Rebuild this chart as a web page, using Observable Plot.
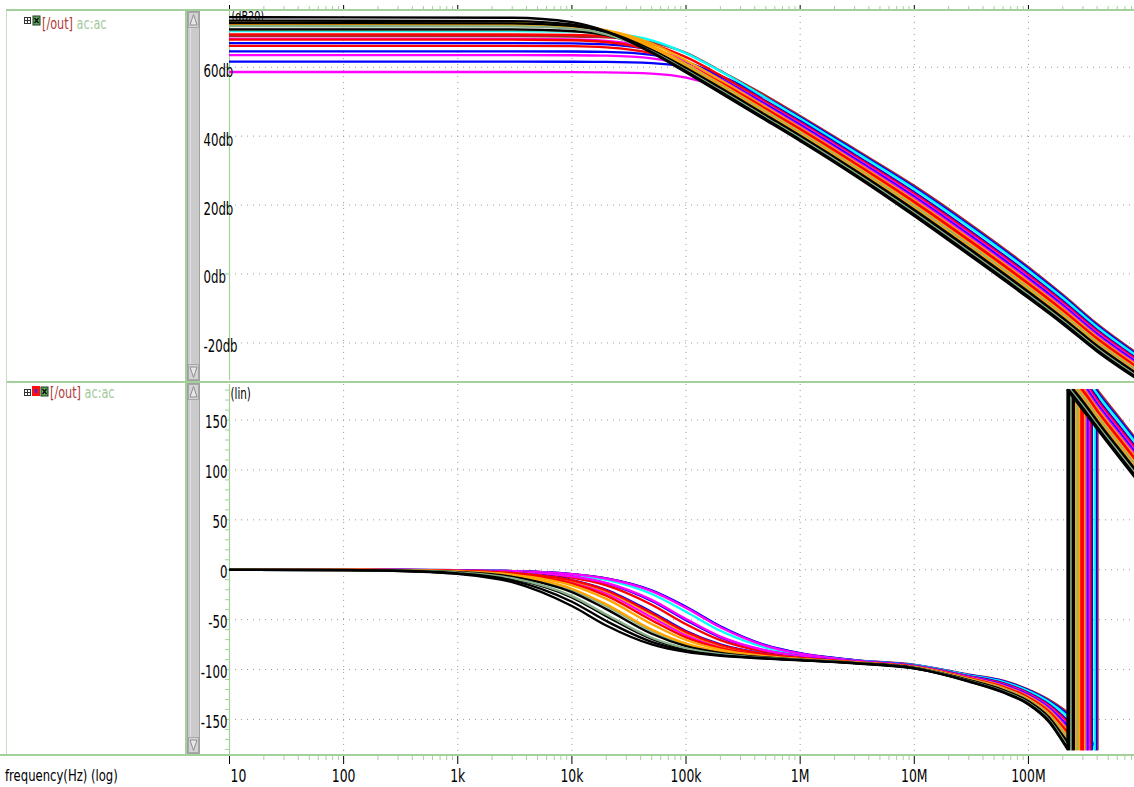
<!DOCTYPE html>
<html>
<head>
<meta charset="utf-8">
<script src="https://cdn.jsdelivr.net/npm/d3@7"></script>
<script src="https://cdn.jsdelivr.net/npm/@observablehq/plot@0.6"></script>
<style>
html,body{margin:0;padding:0;background:#fff;}
#wrap{position:relative;width:1134px;height:787px;overflow:hidden;background:#fff;font-family:"DejaVu Sans",sans-serif;}
.lbl{position:absolute;white-space:nowrap;transform-origin:0 0;line-height:1;}
</style>
</head>
<body>
<div id="wrap"></div>
<script>
// ---------------- data ----------------
const runColors = ["#000000","#000000","#88b088","#000000","#000000","#ffa500","#88b088","#ffa500","#ff0000","#ff0000",
                   "#ffa500","#ff00ff","#0000ff","#ff00ff","#ff0000","#0000ff","#ff00ff","#00ffff","#0000ff","#a52a2a"];

const magFreqs = [10, 3e3, 1e4, 2e4, 5e4, 1e5, 2e5, 5e5, 1e6, 3e6, 1e7, 3e7, 1e8, 2e8, 4e8, 8.5e8];
const magRuns = [
  [74.5, 74.35, 73.07, 70.41, 64.18, 58.47, 52.53, 44.60, 38.58, 28.56, 16.80, 5.56, -7.00, -14.50, -22.50, -30.00],
  [73.5, 73.39, 72.42, 70.21, 64.43, 58.83, 52.92, 44.99, 38.98, 28.96, 17.26, 6.04, -6.53, -14.06, -22.08, -29.61],
  [71.9, 71.83, 71.18, 69.55, 64.51, 59.12, 53.28, 45.37, 39.37, 29.37, 17.72, 6.53, -6.06, -13.61, -21.66, -29.21],
  [72.8, 72.72, 72.00, 70.24, 65.00, 59.56, 53.69, 45.78, 39.75, 29.78, 18.19, 7.01, -5.58, -13.16, -21.24, -28.82],
  [71.0, 70.95, 70.50, 69.27, 64.92, 59.78, 54.02, 46.13, 40.14, 30.18, 18.66, 7.50, -5.10, -12.71, -20.81, -28.42],
  [73.0, 72.93, 72.29, 70.68, 65.66, 60.28, 54.44, 46.53, 40.52, 30.59, 19.11, 7.98, -4.63, -12.26, -20.40, -28.03],
  [70.8, 70.76, 70.40, 69.37, 65.43, 60.48, 54.77, 46.91, 40.91, 30.99, 19.58, 8.47, -4.16, -11.81, -19.97, -27.63],
  [72.4, 72.35, 71.87, 70.59, 66.13, 60.96, 55.18, 47.29, 41.29, 31.39, 20.04, 8.95, -3.69, -11.37, -19.56, -27.24],
  [68.0, 67.98, 67.82, 67.31, 64.84, 60.77, 55.41, 47.66, 41.67, 31.80, 20.50, 9.43, -3.21, -10.92, -19.13, -26.84],
  [66.2, 66.19, 66.09, 65.77, 64.03, 60.65, 55.64, 47.95, 42.06, 32.21, 20.97, 9.92, -2.73, -10.47, -18.71, -26.45],
  [72.0, 71.97, 71.62, 70.66, 66.87, 61.97, 56.30, 48.44, 42.44, 32.61, 21.43, 10.40, -2.27, -10.03, -18.29, -26.06],
  [68.2, 68.19, 68.05, 67.64, 65.50, 61.72, 56.51, 48.75, 42.83, 33.02, 21.90, 10.89, -1.79, -9.58, -17.87, -25.66],
  [67.0, 66.99, 66.90, 66.60, 64.96, 61.69, 56.75, 49.15, 43.21, 33.43, 22.36, 11.37, -1.31, -9.13, -17.44, -25.26],
  [63.5, 63.50, 63.46, 63.33, 62.55, 60.53, 56.58, 49.43, 43.59, 33.83, 22.82, 11.85, -0.84, -8.69, -17.03, -24.87],
  [69.5, 69.49, 69.35, 68.92, 66.73, 62.91, 57.67, 49.90, 43.98, 34.23, 23.29, 12.34, -0.37, -8.24, -16.60, -24.47],
  [64.6, 64.60, 64.55, 64.42, 63.58, 61.47, 57.42, 50.22, 44.36, 34.64, 23.74, 12.82, 0.10, -7.79, -16.19, -24.08],
  [58.6, 58.60, 58.58, 58.52, 58.14, 57.00, 54.16, 47.77, 42.03, 32.26, 21.02, 9.98, -2.68, -10.42, -18.66, -26.40],
  [70.5, 70.49, 70.35, 69.94, 67.80, 64.02, 58.80, 51.10, 45.13, 35.45, 24.68, 13.79, 1.06, -6.89, -15.34, -23.29],
  [61.6, 61.60, 61.58, 61.53, 61.18, 60.12, 57.41, 51.13, 45.41, 35.85, 25.13, 14.27, 1.52, -6.45, -14.92, -22.90],
  [69.0, 69.00, 68.91, 68.66, 67.21, 64.17, 58.93, 51.75, 45.87, 36.26, 25.60, 14.76, 2.00, -6.00, -14.50, -22.50]
];

const phaseFreqs = [10, 100, 300, 1e3, 3e3, 1e4, 2e4, 5e4, 1e5, 2e5, 5e5, 1e6, 3e6, 1e7, 3e7, 6e7, 1e8, 1.5e8, 2.2e8, 3e8, 4e8, 6e8, 8.5e8];
const phaseRuns = [
  [-0.04, -0.42, -1.26, -4.20, -12.44, -36.33, -55.78, -74.78, -82.36, -86.31, -89.04, -90.72, -93.74, -98.92, -112.00, -123.00, -135.00, -152.00, -180.00, -200.00, -219.00, -245.00, -267.00],
  [-0.04, -0.36, -1.07, -3.58, -10.62, -32.01, -51.34, -72.26, -81.01, -85.63, -88.76, -90.56, -93.64, -98.75, -111.64, -122.38, -134.22, -150.86, -178.08, -197.82, -216.95, -242.92, -264.92],
  [-0.03, -0.29, -0.86, -2.85, -8.49, -26.45, -44.86, -68.10, -78.73, -84.46, -88.29, -90.32, -93.51, -98.57, -111.27, -121.74, -133.43, -149.69, -176.12, -195.59, -214.85, -240.80, -262.80],
  [-0.03, -0.30, -0.90, -3.01, -8.97, -27.76, -46.47, -69.19, -79.34, -84.77, -88.40, -90.36, -93.48, -98.42, -110.89, -121.10, -132.63, -148.52, -174.15, -193.36, -212.76, -238.68, -260.68],
  [-0.02, -0.24, -0.71, -2.36, -7.04, -22.37, -39.46, -64.08, -76.44, -83.27, -87.80, -90.05, -93.33, -98.23, -110.52, -120.47, -131.83, -147.36, -172.19, -191.14, -210.67, -236.56, -258.56],
  [-0.02, -0.20, -0.59, -1.98, -5.93, -19.08, -34.68, -59.98, -73.98, -81.98, -87.26, -89.77, -93.19, -98.05, -110.16, -119.84, -131.05, -146.21, -170.27, -188.95, -208.61, -234.48, -256.48],
  [-0.02, -0.21, -0.63, -2.10, -6.30, -20.18, -36.33, -61.45, -74.88, -82.46, -87.46, -89.85, -93.16, -97.90, -109.79, -119.21, -130.26, -145.05, -168.31, -186.73, -206.52, -232.36, -254.36],
  [-0.02, -0.16, -0.48, -1.60, -4.79, -15.61, -29.19, -54.39, -70.40, -80.05, -86.47, -89.34, -92.95, -97.69, -109.42, -118.58, -129.48, -143.90, -166.38, -184.54, -204.46, -230.28, -252.28],
  [-0.01, -0.14, -0.42, -1.39, -4.17, -13.68, -25.95, -50.58, -67.76, -78.59, -85.86, -89.02, -92.79, -97.50, -109.05, -117.95, -128.68, -142.74, -164.42, -182.32, -202.37, -228.16, -250.16],
  [-0.01, -0.11, -0.33, -1.09, -3.25, -10.72, -20.75, -43.44, -62.26, -75.41, -84.52, -88.34, -92.52, -97.28, -108.68, -117.31, -127.89, -141.57, -162.46, -180.09, -200.28, -226.04, -248.04],
  [-0.01, -0.11, -0.34, -1.14, -3.41, -11.24, -21.68, -44.83, -63.40, -76.08, -84.81, -88.46, -92.51, -97.13, -108.32, -116.69, -127.11, -140.43, -160.54, -177.91, -198.22, -223.96, -245.96],
  [-0.01, -0.13, -0.38, -1.25, -3.75, -12.32, -23.59, -47.52, -65.49, -77.30, -85.31, -88.71, -92.55, -97.00, -107.95, -116.05, -126.31, -139.26, -158.58, -175.68, -196.13, -221.84, -243.84],
  [-0.01, -0.10, -0.31, -1.04, -3.13, -10.32, -20.02, -42.32, -61.33, -74.85, -84.26, -88.17, -92.32, -96.79, -107.58, -115.42, -125.52, -138.10, -156.62, -173.46, -194.04, -219.72, -241.72],
  [-0.01, -0.07, -0.20, -0.67, -2.00, -6.64, -13.11, -30.20, -49.43, -66.95, -80.78, -86.38, -91.68, -96.46, -107.21, -114.79, -124.74, -136.95, -154.69, -171.27, -191.98, -217.64, -239.64],
  [-0.01, -0.08, -0.24, -0.80, -2.41, -7.97, -15.65, -35.00, -54.57, -70.55, -82.40, -87.19, -91.90, -96.38, -106.84, -114.16, -123.94, -135.79, -152.73, -169.05, -189.89, -215.52, -237.52],
  [-0.01, -0.07, -0.21, -0.69, -2.08, -6.89, -13.60, -31.16, -50.50, -67.73, -81.14, -86.53, -91.63, -96.16, -106.48, -113.53, -123.16, -134.64, -150.81, -166.86, -187.83, -213.44, -235.44],
  [0.00, -0.04, -0.13, -0.45, -1.35, -4.48, -8.92, -21.41, -38.21, -57.68, -76.25, -84.09, -91.09, -96.83, -108.64, -117.24, -127.80, -141.44, -162.24, -179.84, -200.04, -225.80, -247.80],
  [0.00, -0.05, -0.15, -0.52, -1.55, -5.15, -10.21, -24.25, -42.12, -61.17, -78.00, -84.90, -90.99, -95.68, -105.73, -112.26, -121.57, -132.31, -146.88, -162.41, -183.65, -209.20, -231.20],
  [0.00, -0.04, -0.13, -0.43, -1.29, -4.30, -8.55, -20.60, -37.04, -56.58, -75.60, -83.64, -90.51, -95.40, -105.37, -111.64, -120.80, -131.17, -144.96, -160.23, -181.59, -207.12, -229.12],
  [0.00, -0.04, -0.13, -0.44, -1.32, -4.40, -8.75, -21.04, -37.67, -57.18, -75.93, -83.79, -90.52, -95.26, -105.00, -111.00, -120.00, -130.00, -143.00, -158.00, -179.50, -205.00, -227.00]
];
// frequency at which each run's phase wraps from -180 to +180
const wrapFreqs = [220e6, 226.7e6, 234.0e6, 241.8e6, 250.0e6, 258.5e6, 267.8e6, 277.6e6, 288.2e6, 299.5e6,
                   309.0e6, 318.8e6, 328.8e6, 338.7e6, 349.0e6, 359.3e6, 300.7e6, 380.8e6, 391.6e6, 403.2e6];

const freqTicks = [10, 100, 1e3, 1e4, 1e5, 1e6, 1e7, 1e8];
const freqTickLabels = ["10", "100", "1k", "10k", "100k", "1M", "10M", "100M"];
const magTicks = [60, 40, 20, 0, -20];
const magTickLabels = ["60db", "40db", "20db", "0db", "-20db"];
const phaseTicks = [150, 100, 50, 0, -50, -100, -150];
const phaseTickLabels = ["150", "100", "50", "0", "-50", "-100", "-150"];

// ---------------- build ----------------
const GREEN = "#a3d09b";
const GRID = {stroke: "#9a9a9a", strokeDasharray: "1,5", strokeWidth: 1};
const LW = 2.3;
const minorFreqTicks = [];
for (let k = 1; k <= 8; k++) for (let m = 2; m <= 9; m++) { const v = m * 10 ** k; if (v <= 8.5e8) minorFreqTicks.push(v); }
const phaseMinor = d3.range(-180, 181, 10);
const drawOrder = d3.range(runColors.length).reverse();   // black runs end up on top

const magData = magRuns.map((row, i) => row.map((v, j) => ({run: i, f: magFreqs[j], v})));
const phaseData = phaseRuns.map((row, i) => {
  const fw = wrapFreqs[i], a = [], b = [];
  row.forEach((v, j) => {
    const f = phaseFreqs[j];
    if (f < fw) a.push({seg: "a", f, v});
    else if (f > fw) b.push({seg: "b", f, v: v + 360});
  });
  a.push({seg: "a", f: fw, v: -180});
  b.unshift({seg: "b", f: fw, v: 180});
  return a.concat(b);
});
const wrapData = wrapFreqs.map((f, i) => ({run: i, f, lo: -180, hi: 180}));

const X = {type: "log", domain: [10, 8.5e8]};
const STYLE = {background: "transparent", fontFamily: "DejaVu Sans", overflow: "visible", color: "#000"};

const topPlot = Plot.plot({
  width: 1134, height: 382,
  marginLeft: 229, marginRight: 0, marginTop: 10, marginBottom: 2, insetTop: 2,
  x: X, y: {domain: [-30.9, 75.87]},
  style: STYLE,
  marks: [
    Plot.ruleY(magTicks, GRID),
    Plot.ruleX(freqTicks.slice(1), GRID),
    Plot.ruleX([10], {stroke: GREEN, strokeWidth: 1.2}),
    Plot.text(["(dB20)"], {frameAnchor: "top-left", text: d => d, dx: 2, dy: 1, fontSize: 14, lineAnchor: "top"}),
    ...drawOrder.map(i => Plot.line(magData[i], {x: "f", y: "v", stroke: runColors[i], strokeWidth: LW, curve: "monotone-x", clip: true})),
    Plot.axisX({ticks: freqTicks, anchor: "top", tickSize: 6, stroke: "#000", tickFormat: () => "", label: null}),
    Plot.axisX({ticks: minorFreqTicks, anchor: "top", tickSize: 5, stroke: GREEN, tickFormat: () => "", label: null}),
    Plot.axisY({ticks: magTicks, tickSize: 4, stroke: GREEN, tickFormat: () => "", label: null}),
    Plot.axisY({ticks: magTicks, tickSize: 0, tickPadding: 26, textAnchor: "start", dy: 4, fontSize: 17,
                tickFormat: d => magTickLabels[magTicks.indexOf(d)], label: null})
  ]
});

const botPlot = Plot.plot({
  width: 1134, height: 405,
  marginLeft: 229, marginRight: 0, marginTop: 2, marginBottom: 32, insetBottom: 3,
  x: X, y: {domain: [-183.1, 185.6]},
  style: STYLE,
  marks: [
    Plot.ruleY(phaseTicks, GRID),
    Plot.ruleX(freqTicks.slice(1), GRID),
    Plot.ruleX([10], {stroke: GREEN, strokeWidth: 1.2}),
    Plot.text(["(lin)"], {frameAnchor: "top-left", text: d => d, dx: 1, dy: 4, fontSize: 15, lineAnchor: "top"}),
    ...drawOrder.flatMap(i => [
      Plot.line(phaseData[i], {x: "f", y: "v", z: "seg", stroke: runColors[i], strokeWidth: LW, curve: "monotone-x", clip: true}),
      Plot.ruleX([wrapData[i]], {x: "f", y1: "lo", y2: "hi", stroke: runColors[i], strokeWidth: LW})
    ]),
    Plot.axisY({ticks: phaseMinor, tickSize: 4, stroke: GREEN, tickFormat: () => "", label: null}),
    Plot.axisY({ticks: phaseTicks, tickSize: 0, tickPadding: 2, dy: 3, fontSize: 17,
                tickFormat: d => phaseTickLabels[phaseTicks.indexOf(d)], label: null}),
    Plot.axisX({ticks: freqTicks, anchor: "bottom", tickSize: 9, stroke: "#000", tickFormat: () => "", label: null}),
    Plot.axisX({ticks: minorFreqTicks, anchor: "bottom", tickSize: 5, stroke: GREEN, tickFormat: () => "", label: null}),
    Plot.axisX({ticks: freqTicks.slice(1), anchor: "bottom", tickSize: 0, tickPadding: 14, fontSize: 18,
                tickFormat: d => freqTickLabels[freqTicks.indexOf(d)], label: null}),
    Plot.axisX({ticks: [10], anchor: "bottom", tickSize: 0, tickPadding: 14, fontSize: 18, textAnchor: "start", dx: 1,
                tickFormat: () => freqTickLabels[0], label: null})
  ]
});

const wrap = document.getElementById("wrap");
[[topPlot, 0], [botPlot, 382]].forEach(([svg, top]) => {
  svg.style.position = "absolute";
  svg.style.left = "0px";
  svg.style.top = top + "px";
  wrap.appendChild(svg);
  svg.querySelectorAll("text").forEach(t => {
    if (t.querySelector("tspan")) return;
    const w = t.getComputedTextLength();
    if (w > 0) { t.setAttribute("textLength", (w * 0.69).toFixed(2)); t.setAttribute("lengthAdjust", "spacingAndGlyphs"); }
  });
});

// ---------------- window chrome ----------------
const chrome = `
<svg width="1134" height="787" style="position:absolute;left:0;top:0;pointer-events:none">
  <g fill="${GREEN}">
    <rect x="6" y="9" width="1128" height="2"/>
    <rect x="6" y="381" width="1128" height="2"/>
    <rect x="0" y="754" width="1134" height="2"/>
    <rect x="185" y="11" width="2" height="370"/>
    <rect x="185" y="383" width="2" height="371"/>
  </g>
  <rect x="6" y="11" width="1" height="743" fill="#c8dcc4"/>
  ${[[11, 381], [383, 754]].map(([t, b]) => `
    <rect x="187.5" y="${t + 0.5}" width="12" height="${b - t - 1}" fill="#cacaca" stroke="#a0a0a0"/>
    <line x1="190.5" y1="${t + 17}" x2="190.5" y2="${b - 17}" stroke="#e2e2e2"/>
    <rect x="188.5" y="${t + 1.5}" width="10" height="15" fill="#d4d4d4" stroke="#a8a8a8"/>
    <polygon points="193.5,${t + 3.5} 190,${t + 14} 197,${t + 14}" fill="#e8e8e8" stroke="#8e8e8e"/>
    <rect x="188.5" y="${b - 16.5}" width="10" height="15" fill="#d4d4d4" stroke="#a8a8a8"/>
    <polygon points="193.5,${b - 3.5} 190,${b - 14} 197,${b - 14}" fill="#e8e8e8" stroke="#8e8e8e"/>`).join("")}
  <g stroke="#333" fill="#fff" stroke-width="1">
    <rect x="24.5" y="17.5" width="6" height="6"/>
    <rect x="24.5" y="389.5" width="6" height="6"/>
  </g>
  <g stroke="#333" stroke-width="1">
    <line x1="27.5" y1="18" x2="27.5" y2="23"/><line x1="25" y1="20.5" x2="30" y2="20.5"/>
    <line x1="27.5" y1="390" x2="27.5" y2="395"/><line x1="25" y1="392.5" x2="30" y2="392.5"/>
  </g>
  <rect x="33" y="16" width="7" height="9" fill="#5faa5f" stroke="#1f3a1f" stroke-width="1"/>
  <path d="M34.5,18 L38.5,23 M38.5,18 L34.5,23" stroke="#111" stroke-width="1.4"/>
  <rect x="32" y="386" width="8" height="10" fill="#ff1010"/>
  <rect x="35" y="389" width="2" height="4" fill="#2030ff"/>
  <rect x="41" y="387" width="7" height="9" fill="#5faa5f" stroke="#1f3a1f" stroke-width="1"/>
  <path d="M42.5,389 L46.5,394 M46.5,389 L42.5,394" stroke="#111" stroke-width="1.4"/>
</svg>`;
wrap.insertAdjacentHTML("beforeend", chrome);

function label(html, left, top, size, sx) {
  const d = document.createElement("div");
  d.className = "lbl";
  d.style.left = left + "px";
  d.style.top = top + "px";
  d.style.fontSize = size + "px";
  d.style.transform = `scaleX(${sx})`;
  d.innerHTML = html;
  wrap.appendChild(d);
}
label('<span style="color:#b23a3a">[/out]</span> <span style="color:#a3c99a">ac:ac</span>', 42, 16.5, 15, 0.75);
label('<span style="color:#b23a3a">[/out]</span> <span style="color:#a3c99a">ac:ac</span>', 50, 385.5, 15, 0.75);
label('frequency(Hz) (log)', 5, 767.5, 16, 0.727);
</script>
</body>
</html>
